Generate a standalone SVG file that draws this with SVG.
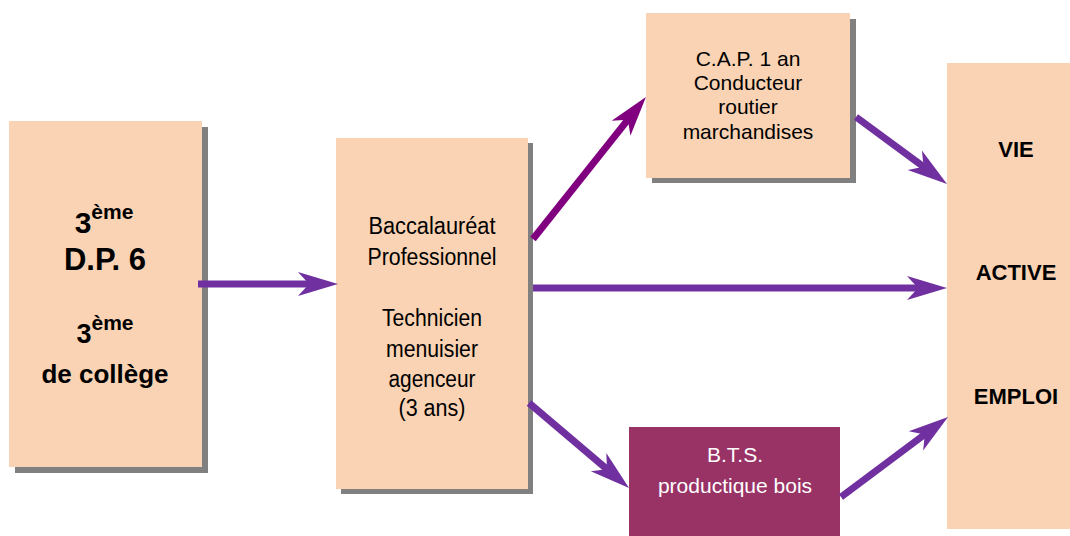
<svg xmlns="http://www.w3.org/2000/svg" width="1070" height="536" viewBox="0 0 1070 536">
  <defs>
    <style>
      .box { fill: #F9D3B3; }
      .shadow { fill: #808080; }
      .bts { fill: #993366; }
      .t { font-family: "Liberation Sans", Arial, sans-serif; fill: #000; text-anchor: middle; }
      .b { font-weight: bold; }
      .w { fill: #FFFFFF; }
      .conn { fill: none; stroke-width: 7; stroke-linecap: butt; }
      .p1 { stroke: #7030A0; }
      .p2 { stroke: #800080; }
    </style>
    <marker id="ah1" markerUnits="userSpaceOnUse" markerWidth="40" markerHeight="26" viewBox="0 0 40 26" refX="20" refY="13" orient="auto" overflow="visible">
      <path d="M0,1 L40,13 L0,25 L11,13 Z" fill="#7030A0"/>
    </marker>
    <marker id="ah2" markerUnits="userSpaceOnUse" markerWidth="40" markerHeight="26" viewBox="0 0 40 26" refX="20" refY="13" orient="auto" overflow="visible">
      <path d="M0,1 L40,13 L0,25 L11,13 Z" fill="#800080"/>
    </marker>
  </defs>
  <rect width="1070" height="536" fill="#FFFFFF"/>

  <g id="node-3eme">
    <rect class="shadow" x="15" y="127" width="193" height="346"/>
    <rect class="box" x="9" y="121" width="193" height="346"/>
    <text class="t b" x="104" y="233" font-size="30">3<tspan dy="-14" font-size="21">ème</tspan></text>
    <text class="t b" x="105" y="270" font-size="31">D.P. 6</text>
    <text class="t b" x="105" y="343" font-size="27">3<tspan dy="-13" font-size="21">ème</tspan></text>
    <text class="t b" x="105" y="383" font-size="26">de collège</text>
  </g>

  <g id="node-bac">
    <rect class="shadow" x="341" y="143" width="192" height="351"/>
    <rect class="box" x="336" y="138" width="192" height="351"/>
    <text class="t" x="432" y="234" font-size="23" textLength="127" lengthAdjust="spacingAndGlyphs">Baccalauréat</text>
    <text class="t" x="432" y="265" font-size="23" textLength="129" lengthAdjust="spacingAndGlyphs">Professionnel</text>
    <text class="t" x="432" y="326" font-size="23" textLength="100" lengthAdjust="spacingAndGlyphs">Technicien</text>
    <text class="t" x="432" y="357" font-size="23" textLength="92" lengthAdjust="spacingAndGlyphs">menuisier</text>
    <text class="t" x="432" y="387" font-size="23" textLength="87" lengthAdjust="spacingAndGlyphs">agenceur</text>
    <text class="t" x="432" y="416" font-size="23" textLength="67" lengthAdjust="spacingAndGlyphs">(3 ans)</text>
  </g>

  <g id="node-cap">
    <rect class="shadow" x="652" y="19" width="204" height="164"/>
    <rect class="box" x="646" y="13" width="204" height="165"/>
    <text class="t" x="748" y="66" font-size="21">C.A.P. 1 an</text>
    <text class="t" x="748" y="90" font-size="21">Conducteur</text>
    <text class="t" x="748" y="114" font-size="21">routier</text>
    <text class="t" x="748" y="139" font-size="21">marchandises</text>
  </g>

  <g id="node-bts">
    <rect class="bts" x="629" y="427" width="211" height="109"/>
    <text class="t w" x="735" y="462" font-size="21">B.T.S.</text>
    <text class="t w" x="735" y="493" font-size="21">productique bois</text>
  </g>

  <g id="node-vie">
    <rect class="box" x="947" y="63" width="140" height="466"/>
    <text class="t b" x="1016" y="157" font-size="22">VIE</text>
    <text class="t b" x="1016" y="280" font-size="22">ACTIVE</text>
    <text class="t b" x="1016" y="404" font-size="22">EMPLOI</text>
  </g>

  <g id="connectors">
    <path class="conn p1" d="M198,284 L318,284" marker-end="url(#ah1)"/>
    <path class="conn p2" d="M533,239 L633.5,112.6" marker-end="url(#ah2)"/>
    <path class="conn p1" d="M856,117 L930.9,172.1" marker-end="url(#ah1)"/>
    <path class="conn p1" d="M533,288 L927,288" marker-end="url(#ah1)"/>
    <path class="conn p1" d="M529,403 L613.8,475" marker-end="url(#ah1)"/>
    <path class="conn p1" d="M841,497 L932,429" marker-end="url(#ah1)"/>
  </g>
</svg>
